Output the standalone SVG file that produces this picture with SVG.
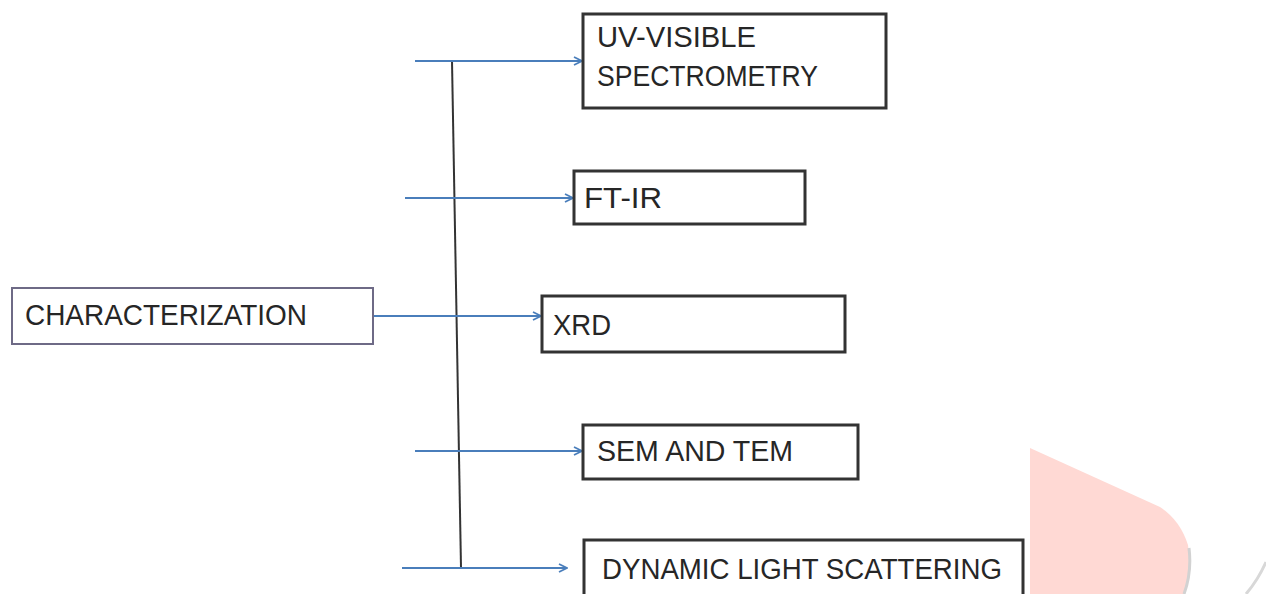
<svg xmlns="http://www.w3.org/2000/svg" width="1266" height="594" viewBox="0 0 1266 594">
<style>
.box{fill:#fff;stroke:#333;stroke-width:3}
.root{fill:#fff;stroke:#6e6a86;stroke-width:2}
.lbl{font-family:"Liberation Sans",Arial,sans-serif;font-size:30px;fill:#262626}
.arr{stroke:#4a7ebb;stroke-width:2;fill:none}
.trunk{stroke:#333;stroke-width:2;fill:none}
</style>
<defs>
<marker id="ah" viewBox="0 0 10 10" refX="9" refY="5" markerWidth="10" markerHeight="10" markerUnits="userSpaceOnUse" orient="auto">
<path d="M1,1 L9,5 L1,9" fill="none" stroke="#4a7ebb" stroke-width="1.8"/>
</marker>
</defs>
<rect width="1266" height="594" fill="#fff"/>
<g id="decor">
<path d="M1030,448 L1160,507 Q1180,520 1188,545 Q1192,570 1184,594 L1030,594 Z" fill="#ffd9d4"/>
<path d="M1189,548 Q1192,572 1184,594" fill="none" stroke="#d2d2d2" stroke-width="3"/>
<path d="M1266,562 Q1258,580 1246,594" fill="none" stroke="#d8d8d8" stroke-width="3"/>
</g>
<g id="connectors">
<path class="trunk" d="M452,61 L461,568"/>
<path class="arr" d="M415,61 L582,61" marker-end="url(#ah)"/>
<path class="arr" d="M405,198 L573,198" marker-end="url(#ah)"/>
<path class="arr" d="M374,316 L541,316" marker-end="url(#ah)"/>
<path class="arr" d="M415,451 L582,451" marker-end="url(#ah)"/>
<path class="arr" d="M402,568 L567,568" marker-end="url(#ah)"/>
</g>
<g id="characterization">
<rect class="root" x="12" y="288" width="361" height="56"/>
<text class="lbl" x="25" y="325" textLength="282" lengthAdjust="spacingAndGlyphs">CHARACTERIZATION</text>
</g>
<g id="uv-visible">
<rect class="box" x="583" y="14" width="303" height="94"/>
<text class="lbl" x="597" y="47" textLength="159" lengthAdjust="spacingAndGlyphs">UV-VISIBLE</text>
<text class="lbl" x="597" y="86" textLength="221" lengthAdjust="spacingAndGlyphs">SPECTROMETRY</text>
</g>
<g id="ft-ir">
<rect class="box" x="574" y="171" width="231" height="53"/>
<text class="lbl" x="584" y="208" textLength="78" lengthAdjust="spacingAndGlyphs">FT-IR</text>
</g>
<g id="xrd">
<rect class="box" x="542" y="296" width="303" height="56"/>
<text class="lbl" x="553" y="335" textLength="58" lengthAdjust="spacingAndGlyphs">XRD</text>
</g>
<g id="sem-tem">
<rect class="box" x="583" y="425" width="275" height="54"/>
<text class="lbl" x="597" y="461" textLength="196" lengthAdjust="spacingAndGlyphs">SEM AND TEM</text>
</g>
<g id="dls">
<rect class="box" x="584" y="540" width="439" height="62"/>
<text class="lbl" x="602" y="579" textLength="400" lengthAdjust="spacingAndGlyphs">DYNAMIC LIGHT SCATTERING</text>
</g>
</svg>
